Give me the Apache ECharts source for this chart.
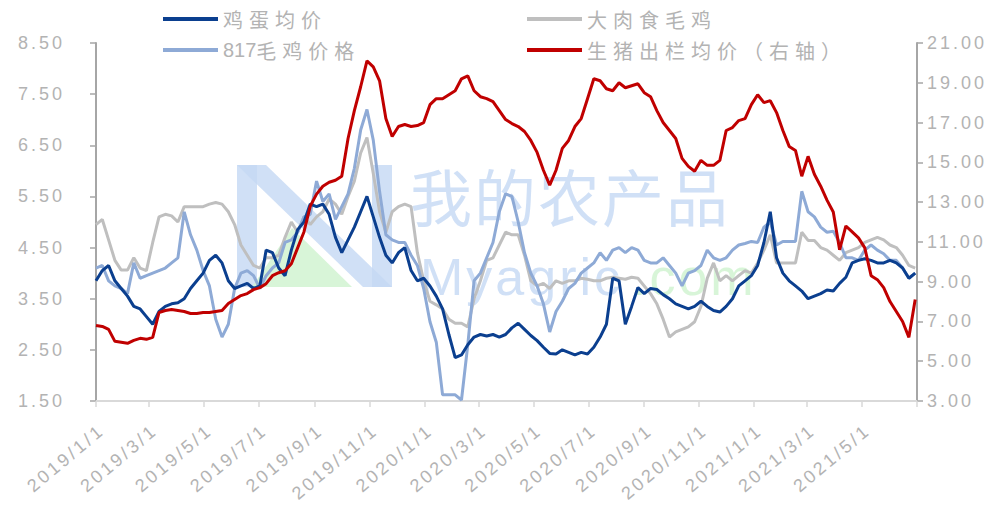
<!DOCTYPE html>
<html><head><meta charset="utf-8">
<script src="https://cdn.jsdelivr.net/npm/echarts@6/dist/echarts.min.js"></script>
<style>
html,body{margin:0;padding:0;background:#fff;}
#main{width:1005px;height:505px;}
#main text{letter-spacing:3px;}
</style></head><body><div id="main"></div>
<script>
// weekly observation dates, 2019-01-01 .. 2021-06-29
const weekCount = 131;
const weekDates = [];
for (let k = 0; k < weekCount; k++) weekDates.push(new Date(2019, 0, 1 + 7 * k).getTime());

const xTickLabels = ['2019/1/1','2019/3/1','2019/5/1','2019/7/1','2019/9/1','2019/11/1','2020/1/1','2020/3/1','2020/5/1','2020/7/1','2020/9/1','2020/11/1','2021/1/1','2021/3/1','2021/5/1'];
const xAxisEnd = '2021/7/1';
const leftTicks = [1.5, 2.5, 3.5, 4.5, 5.5, 6.5, 7.5, 8.5];
const rightTicks = [3, 5, 7, 9, 11, 13, 15, 17, 19, 21];

// 鸡蛋均价
const eggPrice = [3.85,4.05,4.15,3.85,3.7,3.55,3.35,3.3,3.15,3.0,
3.25,3.35,3.4,3.42,3.5,3.7,3.85,4.0,4.25,4.35,
4.2,3.85,3.7,3.75,3.8,3.7,3.75,4.45,4.4,4.1,
3.95,4.45,4.85,5.0,5.35,5.3,5.35,5.15,4.7,4.4,
4.65,4.9,5.2,5.5,5.1,4.7,4.35,4.2,4.4,4.5,
4.05,3.85,3.9,3.75,3.55,3.3,2.8,2.35,2.4,2.6,
2.75,2.8,2.77,2.8,2.75,2.8,2.93,3.02,2.9,2.78,
2.68,2.55,2.43,2.42,2.5,2.45,2.4,2.45,2.42,2.55,
2.75,3.0,3.9,3.85,3.0,3.35,3.72,3.6,3.7,3.68,
3.58,3.5,3.4,3.35,3.3,3.35,3.45,3.35,3.27,3.24,
3.35,3.5,3.75,3.85,3.95,4.15,4.6,5.2,4.3,4.0,
3.85,3.75,3.65,3.5,3.55,3.6,3.67,3.65,3.8,3.92,
4.2,4.25,4.28,4.25,4.2,4.2,4.25,4.2,4.1,3.9,4.0];

// 大肉食毛鸡
const broilerPrice = [4.95,5.05,4.65,4.25,4.06,4.06,4.3,4.1,4.05,4.6,
5.1,5.15,5.12,5.0,5.3,5.3,5.3,5.3,5.35,5.38,
5.35,5.2,4.95,4.55,4.35,4.15,4.1,4.3,4.3,4.35,
4.7,5.0,4.8,5.1,4.95,5.1,5.2,5.45,5.35,5.15,
5.5,5.8,6.35,6.65,5.95,5.2,4.8,5.2,5.3,5.35,
5.3,4.4,3.85,3.45,3.38,3.3,3.1,3.02,3.02,2.95,
3.5,3.85,4.25,4.3,4.55,4.8,4.75,4.75,4.35,3.85,
3.75,3.8,3.7,3.85,3.8,3.85,3.85,3.9,3.88,3.85,
3.85,3.9,3.92,3.9,3.88,3.92,3.9,3.75,3.6,3.4,
3.1,2.75,2.85,2.9,2.95,3.05,3.35,3.9,4.2,3.85,
3.95,3.85,3.95,4.05,4.0,4.2,4.45,4.75,4.2,4.2,
4.2,4.2,4.8,4.64,4.64,4.5,4.45,4.35,4.25,4.4,
4.45,4.5,4.6,4.65,4.7,4.65,4.55,4.5,4.35,4.15,4.1];

// 817毛鸡价格
const chicken817Price = [4.1,4.15,3.85,3.75,3.7,3.6,4.2,3.9,3.95,4.0,
4.05,4.1,4.2,4.3,5.2,4.75,4.45,4.05,3.75,3.1,
2.75,3.0,3.7,4.0,4.05,3.95,3.7,3.95,4.1,4.2,
4.6,4.65,4.8,5.1,5.15,5.8,5.4,5.55,5.05,5.3,
5.55,6.05,6.8,7.2,6.6,5.6,4.75,4.65,4.6,4.6,
4.35,4.15,3.7,3.05,2.65,1.62,1.62,1.62,1.52,2.6,
3.85,4.0,4.3,4.6,5.2,5.55,5.5,5.0,4.4,4.0,
3.75,3.4,2.85,3.25,3.45,3.7,3.8,4.0,4.1,4.2,
4.4,4.25,4.45,4.5,4.4,4.5,4.45,4.25,4.2,4.2,
4.3,4.15,4.0,3.75,4.0,4.05,4.15,4.45,4.3,4.25,
4.3,4.45,4.55,4.58,4.62,4.6,4.9,5.0,4.55,4.62,
4.62,4.62,5.6,5.2,5.1,4.9,4.8,4.82,4.6,4.3,
4.3,4.25,4.45,4.55,4.45,4.38,4.25,4.25,4.1,3.9,4.0];

// 生猪出栏均价（右轴）
const hogPrice = [6.8,6.75,6.6,6.0,5.95,5.9,6.05,6.15,6.1,6.2,
7.45,7.55,7.6,7.55,7.5,7.4,7.4,7.45,7.45,7.5,
7.55,7.9,8.1,8.3,8.4,8.6,8.7,8.9,9.3,9.45,
9.55,9.9,10.7,11.5,12.8,13.4,13.8,14.0,14.1,14.3,
16.2,17.6,18.8,20.1,19.8,19.1,17.2,16.3,16.8,16.9,
16.8,16.85,17.0,17.9,18.2,18.2,18.4,18.6,19.2,19.35,
18.6,18.3,18.2,18.05,17.6,17.15,16.95,16.8,16.55,16.1,
15.5,14.6,13.85,14.6,15.7,16.1,16.8,17.2,18.2,19.2,
19.1,18.7,18.6,19.0,18.75,18.85,18.95,18.5,18.3,17.6,
17.0,16.6,16.2,15.2,14.8,14.55,15.1,14.85,14.85,15.1,
16.6,16.75,17.1,17.2,17.9,18.4,18.0,18.1,17.5,16.6,
15.8,15.6,14.3,15.3,14.4,13.8,13.1,12.5,10.6,11.8,
11.5,11.2,10.7,9.3,9.1,8.7,8.0,7.5,7.0,6.2,8.1];

function toTime(s){ const p = s.split('/').map(Number); return new Date(p[0], p[1]-1, p[2]).getTime(); }
function pairs(vals){ return vals.map((v,i)=>[weekDates[i], v]); }
const labelTimes = xTickLabels.map(toTime);
const tickTimes = labelTimes.concat([toTime(xAxisEnd)]);

const FONT = "'Liberation Sans','Noto Sans CJK SC',sans-serif";
const CJK = "'Noto Sans CJK SC','Liberation Sans',sans-serif";
const TXT = '#b3b3b3';
const WM_BLUE = 'rgba(196,216,244,0.8)';
const WM_GREEN = 'rgba(212,244,212,0.9)';

function applySpacing(){
  document.querySelectorAll('#main svg text').forEach(function(t){
    const s = t.textContent || '';
    let ls = '3px';
    if (s === '我的农产品') ls = '2px';
    else if (s === 'Myagric' || s === '.com') ls = '3px';
    else if (s === '817') ls = '0px';
    else if (/[\u4e00-\u9fff]/.test(s)) ls = '6px';
    if (t.style.letterSpacing !== ls) t.style.letterSpacing = ls;
  });
}

const chart = echarts.init(document.getElementById('main'), null, {renderer:'svg'});
chart.on('finished', applySpacing);
const legendBase = {icon:'rect', itemWidth:55, itemHeight:4, selectedMode:false, padding:0,
  textStyle:{color:TXT, fontSize:20, fontFamily:CJK,
    rich:{n:{color:TXT, fontSize:20, fontFamily:FONT}, c:{color:TXT, fontSize:20, fontFamily:CJK}}}};
chart.setOption({
  animation:false,
  backgroundColor:'#fff',
  grid:{left:96, right:88, top:43, bottom:104, containLabel:false},
  graphic:[
    {type:'group', z:-10, silent:true, children:[
      {type:'rect', shape:{x:237,y:165,width:20,height:122}, style:{fill:WM_BLUE}},
      {type:'rect', shape:{x:372,y:165,width:20,height:122}, style:{fill:WM_BLUE}},
      {type:'polygon', shape:{points:[[237,165],[266,165],[392,287],[363,287]]}, style:{fill:WM_BLUE}},
      {type:'polygon', shape:{points:[[252,287],[292,228],[352,287]]}, style:{fill:WM_GREEN}},
      {type:'text', x:410, y:163, style:{text:'我的农产品', fontSize:62, lineHeight:64, fontFamily:"'Noto Sans CJK SC',sans-serif", fill:WM_BLUE}},
      {type:'text', x:420, y:251, style:{text:'Myagric', fontSize:52, lineHeight:52, fontFamily:"'Liberation Sans',sans-serif", fill:WM_BLUE}},
      {type:'text', x:632, y:251, style:{text:'.com', fontSize:52, lineHeight:52, fontFamily:"'Liberation Sans',sans-serif", fill:WM_GREEN}}
    ]}
  ],
  legend:[
    Object.assign({}, legendBase, {data:['鸡蛋均价'], left:163, top:9}),
    Object.assign({}, legendBase, {data:['大肉食毛鸡'], left:527, top:9}),
    Object.assign({}, legendBase, {data:['817毛鸡价格'], left:163, top:40, formatter:'{n|817}{c|毛鸡价格}'}),
    Object.assign({}, legendBase, {data:['生猪出栏均价（右轴）'], left:527, top:40})
  ],
  xAxis:{
    type:'value', min:toTime(xTickLabels[0]), max:toTime(xAxisEnd),
    axisLine:{show:true, onZero:false, lineStyle:{color:'#d9d9d9', width:2}},
    axisTick:{show:true, customValues:tickTimes, length:6, lineStyle:{color:'#d9d9d9', width:1.5}},
    axisLabel:{customValues:labelTimes, rotate:40, margin:20, verticalAlign:'top', color:TXT, fontSize:18, fontFamily:FONT,
      formatter:function(v){const d=new Date(v); return d.getFullYear()+'/'+(d.getMonth()+1)+'/'+d.getDate();}},
    splitLine:{show:false}
  },
  yAxis:[
    {type:'value', position:'left', min:1.5, max:8.5,
      axisLine:{show:true, lineStyle:{color:'#a6a6a6', width:2}},
      axisTick:{show:true, customValues:leftTicks, length:6, lineStyle:{color:'#a6a6a6', width:1.5}},
      axisLabel:{customValues:leftTicks, margin:31, color:TXT, fontSize:18, fontFamily:FONT, formatter:v=>v.toFixed(2)},
      splitLine:{show:false}},
    {type:'value', position:'right', min:3, max:21,
      axisLine:{show:true, lineStyle:{color:'#a6a6a6', width:2}},
      axisTick:{show:true, customValues:rightTicks, length:6, lineStyle:{color:'#a6a6a6', width:1.5}},
      axisLabel:{customValues:rightTicks, margin:10, color:TXT, fontSize:18, fontFamily:FONT, formatter:v=>v.toFixed(2)},
      splitLine:{show:false}}
  ],
  series:[
    {name:'大肉食毛鸡', type:'line', yAxisIndex:0, data:pairs(broilerPrice), showSymbol:false, color:'#bfbfbf', lineStyle:{width:3}},
    {name:'817毛鸡价格', type:'line', yAxisIndex:0, data:pairs(chicken817Price), showSymbol:false, color:'#8eaad6', lineStyle:{width:3}},
    {name:'鸡蛋均价', type:'line', yAxisIndex:0, data:pairs(eggPrice), showSymbol:false, color:'#0b3f8f', lineStyle:{width:3}},
    {name:'生猪出栏均价（右轴）', type:'line', yAxisIndex:1, data:pairs(hogPrice), showSymbol:false, color:'#c00000', lineStyle:{width:3}}
  ]
});
applySpacing();
setTimeout(applySpacing, 30);
new MutationObserver(applySpacing).observe(document.getElementById('main'), {childList:true, subtree:true});
</script></body></html>
